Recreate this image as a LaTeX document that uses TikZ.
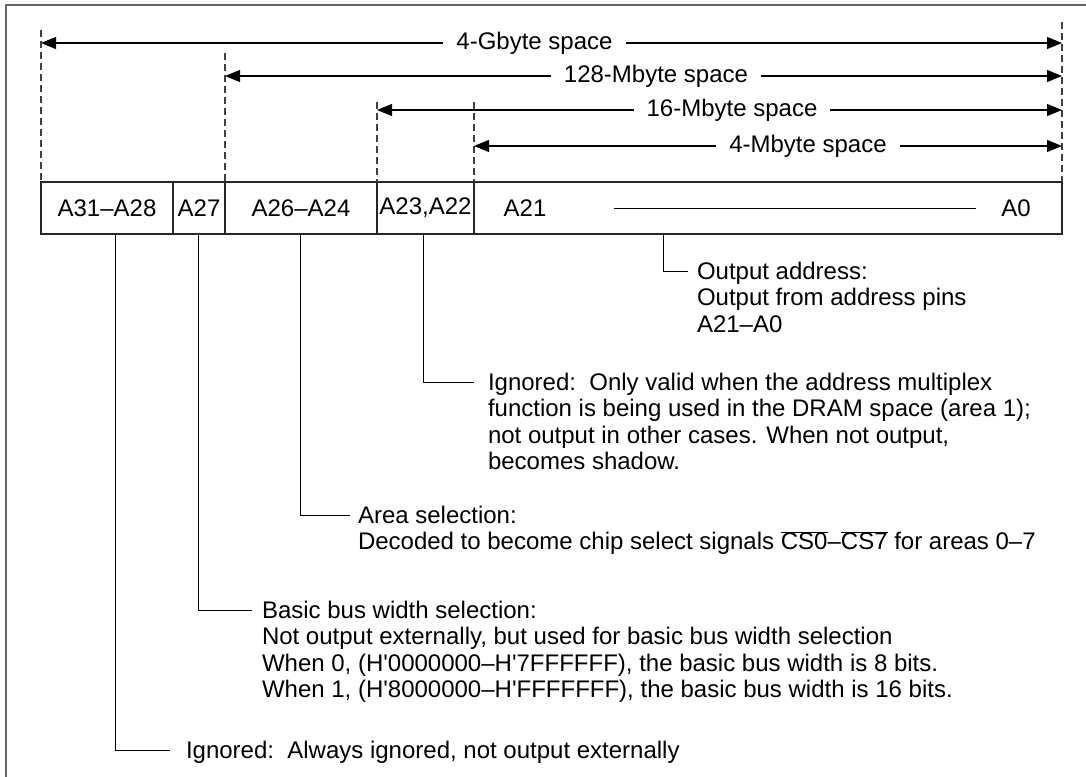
\documentclass[tikz,border=0pt]{standalone}
\usepackage{fontspec}
\setmainfont{Liberation Sans}[Ligatures=TeXOff]
\usetikzlibrary{arrows.meta,calc}
\begin{document}
\begin{tikzpicture}[x=1pt,y=-1pt,
 every node/.style={font=\fontsize{24}{26.5}\selectfont, inner sep=0pt, outer sep=0pt},
 cell/.style={draw=black!85, line width=1.2pt, minimum height=52pt, anchor=north west},
 dim/.style={line width=1.1pt, {Triangle[length=15pt,width=12pt]}-{Triangle[length=15pt,width=12pt]}},
 dimlabel/.style={fill=white, inner xsep=13pt, inner ysep=1pt},
 guide/.style={draw=black!75, line width=1.1pt, dash pattern=on 7pt off 4pt},
 leader/.style={line width=0.9pt},
 note/.style={align=left, anchor=north west}
]
\useasboundingbox (0,0) rectangle (1086,776);
\begin{scope}
\clip (0,0) rectangle (1086,776);
\draw[black!60, line width=1.2pt] (6,5) rectangle (1095,790);
\end{scope}

% register cells
\node[cell, minimum width=132pt] (c1) at (41,182) {A31–A28};
\node[cell, minimum width=52pt]  (c2) at (c1.north east) {A27};
\node[cell, minimum width=152pt] (c3) at (c2.north east) {A26–A24};
\node[cell, minimum width=97pt]  (c4) at (c3.north east) {A23,A22};
\node[cell, minimum width=588pt] (c5) at (c4.north east) {};
\node (a21) at (525,208) {A21};
\node (a0) at (1016,208) {A0};
\draw[line width=1pt] ([xshift=68pt]a21.east) -- ([xshift=-25pt]a0.west);

% dashed guides
\coordinate (g1) at (41,30);
\coordinate (g2) at (225,53);
\coordinate (g3) at (377,102);
\coordinate (g4) at (474,102);
\coordinate (g5) at (1062,22);
\draw[guide] (g1) -- (c1.north west);
\draw[guide] (g2) -- (c3.north west);
\draw[guide] (g3) -- (c4.north west);
\draw[guide] (g4) -- (c5.north west);
\draw[guide] (g5) -- (c5.north east);

% dimension arrows
\coordinate (l1) at (41,43);   \coordinate (r1) at (1062,43);
\coordinate (l2) at (225,76);  \coordinate (r2) at (1062,76);
\coordinate (l3) at (377,110); \coordinate (r3) at (1062,110);
\coordinate (l4) at (474,146); \coordinate (r4) at (1062,146);
\draw[dim] (l1) -- (r1);
\draw[dim] (l2) -- (r2);
\draw[dim] (l3) -- (r3);
\draw[dim] (l4) -- (r4);
\node[dimlabel] (d1) at (534.5,43) {4-Gbyte space};
\node[dimlabel] (d2) at (656,76) {128-Mbyte space};
\node[dimlabel] (d3) at (732,110) {16-Mbyte space};
\node[dimlabel] (d4) at (808,146) {4-Mbyte space};

% notes
\node[note] (n5) at (697,262) {Output address:\\Output from address pins\\A21–A0};
\node[note] (n4) at (488,373) {Ignored:\ \ Only valid when the address multiplex\\function is being used in the DRAM space (area 1);\\not output in other cases. When not output,\\becomes shadow.};
\node[note] (n3) at (358,506) {Area selection:\\Decoded to become chip select signals $\overline{\hbox{CS0}}$–$\overline{\hbox{CS7}}$ for areas 0–7};
\node[note] (n2) at (262,601) {Basic bus width selection:\\Not output externally, but used for basic bus width selection\\When 0, (H'0000000–H'7FFFFFF), the basic bus width is 8 bits.\\When 1, (H'8000000–H'FFFFFFF), the basic bus width is 16 bits.};
\node[note] (n1) at (186,741) {Ignored:\ \ Always ignored, not output externally};

% leaders
\draw[leader] ([xshift=189pt]c5.south west) |- ([shift={(-9,9)}]n5.north west);
\draw[leader] ([xshift=46pt]c4.south west) |- ([shift={(-14,9)}]n4.north west);
\draw[leader] ([xshift=75pt]c3.south west) |- ([shift={(-8,9)}]n3.north west);
\draw[leader] ([xshift=25pt]c2.south west) |- ([shift={(-10,9)}]n2.north west);
\draw[leader] ([xshift=74pt]c1.south west) |- ([shift={(-16,9)}]n1.north west);
\end{tikzpicture}
\end{document}
